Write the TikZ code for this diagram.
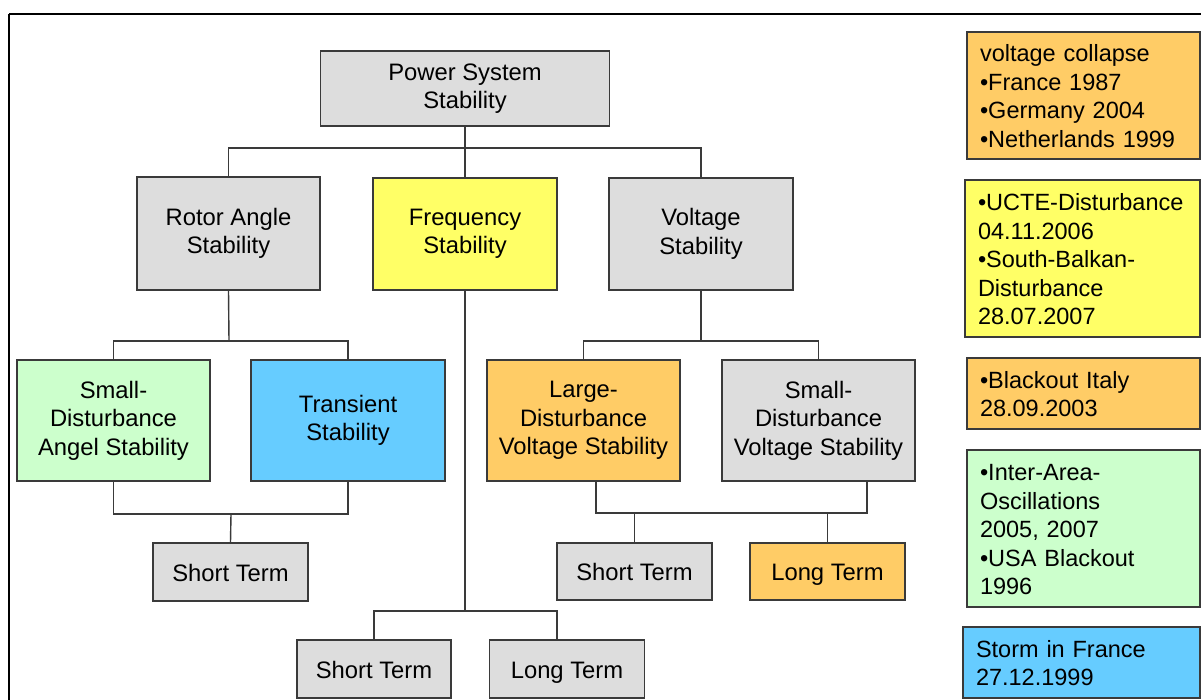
\documentclass[tikz,border=0pt]{standalone}
\usepackage{fontspec}
\setmainfont{Liberation Sans}
\definecolor{boxgray}{HTML}{DDDDDD}
\definecolor{boxyellow}{HTML}{FFFF66}
\definecolor{boxorange}{HTML}{FFCC66}
\definecolor{boxgreen}{HTML}{CCFFCC}
\definecolor{boxblue}{HTML}{66CCFF}
\definecolor{edgegray}{HTML}{3A3A3A}
% strut that keeps every text block centred on whole line heights
\newcommand{\linestrut}{\rule[-5.1pt]{0pt}{28.5pt}}
\tikzset{
  box/.style={draw=edgegray, line width=1.3pt, rectangle, align=center, inner sep=0pt,
    font=\fontsize{23.8}{28.5}\selectfont,
    execute at begin node=\linestrut, execute at end node=\linestrut},
  note/.style={draw=edgegray, line width=1.3pt, rectangle, align=left, inner xsep=13pt, inner ysep=0pt,
    font=\fontsize{23.5}{28.5}\selectfont,
    execute at begin node=\linestrut, execute at end node=\linestrut},
  link/.style={draw=edgegray, line width=1.4pt},
}
\begin{document}
\begin{tikzpicture}[x=1pt, y=-1pt]
\useasboundingbox (0,0) rectangle (1201,700);
% outer frame
\draw[line width=2pt, black] (9,14) -- (1203,14);
\draw[line width=2pt, black] (9,14) -- (9,702);

% hierarchy boxes
\node[box, fill=boxgray, minimum width=289, minimum height=75] (pss) at (465,88.5) {Power System\\Stability};
\node[box, fill=boxgray, minimum width=183, minimum height=113] (rot) at (228.5,233.5) {Rotor Angle\\Stability};
\node[box, fill=boxyellow, minimum width=184, minimum height=112] (freq) at (465,234) {Frequency\\Stability};
\node[box, fill=boxgray, minimum width=184, minimum height=112] (volt) at (701,234) {Voltage\\Stability};
\node[box, fill=boxgreen, minimum width=193, minimum height=121] (sda) at (113.5,420.5) {Small-\\Disturbance\\Angel Stability};
\node[box, fill=boxblue, minimum width=194, minimum height=121] (tr) at (348,420.5) {Transient\\Stability};
\node[box, fill=boxorange, minimum width=193, minimum height=121] (ldv) at (583.5,420.5) {Large-\\Disturbance\\Voltage Stability};
\node[box, fill=boxgray, minimum width=193, minimum height=121] (sdv) at (818.5,420.5) {Small-\\Disturbance\\Voltage Stability};
\node[box, fill=boxgray, minimum width=155, minimum height=58] (st1) at (230.5,572) {Short Term};
\node[box, fill=boxgray, minimum width=155, minimum height=57] (st3) at (634.5,571.5) {Short Term};
\node[box, fill=boxorange, minimum width=155, minimum height=57] (lt3) at (827.5,571.5) {Long Term};
\node[box, fill=boxgray, minimum width=154, minimum height=58] (st2) at (374,669) {Short Term};
\node[box, fill=boxgray, minimum width=155, minimum height=58] (lt2) at (567,669) {Long Term};

% junction points
\coordinate (j0) at (465,148);
\coordinate (j1) at (229,341);
\coordinate (j2) at (701,341);
\coordinate (j3) at (231,514);
\coordinate (j4) at (465,611);
\coordinate (j5a) at (596,513);
\coordinate (j5b) at (867,513);
\coordinate (j6) at (557,611);

% connectors
\draw[link] (pss.south) -- (freq.north);
\draw[link] (rot.north) |- (j0) -| (volt.north);
\draw[link] (rot.south) -- (j1);
\draw[link] (sda.north) |- (j1) -| (tr.north);
\draw[link] (volt.south) -- (j2);
\draw[link] (ldv.north) |- (j2) -| (sdv.north);
\draw[link] (sda.south) |- (j3) -| (tr.south);
\draw[link] (j3) -- (st1.north);
\draw[link] (freq.south) -- (j4);
\draw[link] (st2.north) |- (j4) -- (j6) -- (j6 |- lt2.north);
\draw[link] (ldv.south -| j5a) -- (j5a) -- (j5b) -- (sdv.south -| j5b);
\draw[link] (st3.north) -- (st3.north |- j5a);
\draw[link] (lt3.north) -- (lt3.north |- j5a);

% event notes
\node[note, fill=boxorange, text width=207pt, minimum height=127] (n1) at (1083.5,95.5) {voltage collapse\\•France 1987\\•Germany 2004\\•Netherlands 1999};
\node[note, fill=boxyellow, text width=209pt, minimum height=157] (n2) at (1082.5,258.5) {\mbox{•UCTE-Disturbance}\\04.11.2006\\\mbox{•South-Balkan-}\\Disturbance\\28.07.2007};
\node[note, fill=boxorange, text width=207pt, minimum height=71] (n3) at (1083.5,393.5) {•Blackout Italy\\28.09.2003};
\node[note, fill=boxgreen, text width=207pt, minimum height=157] (n4) at (1083.5,528.5) {\mbox{•Inter-Area-}\\Oscillations\\2005, 2007\\•USA Blackout\\1996};
\node[note, fill=boxblue, text width=211pt, minimum height=71] (n5) at (1081.5,662.5) {Storm in France\\27.12.1999};
\end{tikzpicture}
\end{document}
